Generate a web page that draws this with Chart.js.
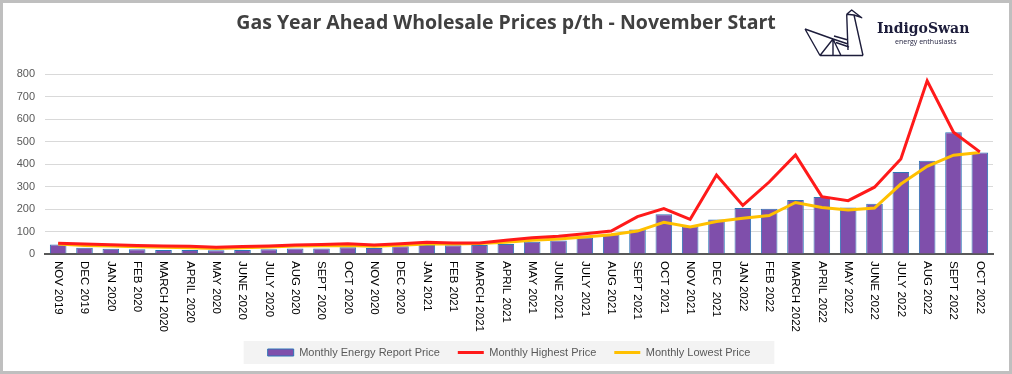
<!DOCTYPE html>
<html>
<head>
<meta charset="utf-8">
<script src="https://cdn.jsdelivr.net/npm/chart.js@4.4.1/dist/chart.umd.min.js"></script>
<style>
html, body { margin: 0; padding: 0; background: #fff; }
</style>
</head>
<body>
<canvas id="grafica" width="1012" height="374"></canvas>
<script>
// months, Nov 2019 -> Oct 2022
const months = ['NOV 2019','DEC 2019','JAN 2020','FEB 2020','MARCH 2020','APRIL 2020','MAY 2020','JUNE 2020','JULY 2020','AUG 2020','SEPT 2020','OCT 2020',
  'NOV 2020','DEC 2020','JAN 2021','FEB 2021','MARCH 2021','APRIL 2021','MAY 2021','JUNE 2021','JULY 2021','AUG 2021','SEPT 2021','OCT 2021',
  'NOV 2021','DEC  2021','JAN 2022','FEB 2022','MARCH 2022','APRIL 2022','MAY 2022','JUNE 2022','JULY 2022','AUG 2022','SEPT 2022','OCT 2022'];

const reportPrice = [42,28,23,21,18,18,17,18,21,24,25,30,
  27,34,40,39,40,45,54,60,72,88,109,177,
  123,153,204,201,240,253,207,223,364,415,541,451];

const highestPrice = [48,44,41,38,36,34,30,33,36,40,42,45,
  40,46,52,49,49,61,72,79,90,102,166,202,
  154,351,216,320,440,255,237,297,422,770,541,454];

const lowestPrice = [44,38,35,32,30,28,25,28,31,35,37,38,
  34,39,44,44,47,52,61,67,76,86,102,141,
  120,144,159,171,229,207,196,204,311,390,439,451];

const yTicks = [0,100,200,300,400,500,600,700,800];

const titleText = 'Gas Year Ahead Wholesale Prices p/th - November Start';

// title, frame, logo, month labels and legend background
const extras = {
  id: 'extras',
  afterLayout(chart) {
    // legend sits a little right of centre in the original
    const lg = chart.legend;
    if (!lg) return;
    lg.left += 10; lg.right += 10;
    (lg.legendHitBoxes || []).forEach(function(b) { b.left += 10; });
  },
  beforeDraw(chart) {
    const ctx = chart.ctx;
    const lg = chart.legend;
    if (lg && lg.legendHitBoxes && lg.legendHitBoxes.length) {
      var x0 = 9999, x1 = 0, y0 = 9999, y1 = 0;
      lg.legendHitBoxes.forEach(function(b) {
        x0 = Math.min(x0, b.left); x1 = Math.max(x1, b.left + b.width);
        y0 = Math.min(y0, b.top); y1 = Math.max(y1, b.top + b.height);
      });
      ctx.save();
      ctx.fillStyle = '#f3f3f3';
      ctx.fillRect(x0 - 24, y0 - 6, x1 - x0 + 48, y1 - y0 + 12);
      ctx.restore();
    }
  },
  afterDraw(chart) {
    const ctx = chart.ctx;
    const xs = chart.scales.x;

    // title
    ctx.save();
    ctx.font = 'bold 19.5px "Open Sans", sans-serif';
    ctx.fillStyle = '#404040';
    ctx.textAlign = 'center';
    ctx.textBaseline = 'middle';
    ctx.fillText(titleText, 506, 23);
    ctx.restore();

    // rotated month labels, reading downwards
    ctx.save();
    ctx.font = '11.5px "Liberation Sans", Arial, sans-serif';
    ctx.fillStyle = '#000';
    ctx.textAlign = 'left';
    ctx.textBaseline = 'middle';
    months.forEach(function(m, i) {
      const x = xs.getPixelForValue(i);
      ctx.save();
      ctx.translate(x, xs.top + 7);
      ctx.rotate(Math.PI / 2);
      ctx.fillText(m, 0, 0);
      ctx.restore();
    });
    ctx.restore();

    // logo
    ctx.save();
    ctx.strokeStyle = '#1d1d3b';
    ctx.lineWidth = 1.4;
    ctx.lineJoin = 'round';
    ctx.beginPath();
    ctx.moveTo(846.7, 14.3); ctx.lineTo(851.7, 10); ctx.lineTo(861.7, 17.7); ctx.lineTo(854, 15); ctx.lineTo(846.7, 14.3);
    ctx.moveTo(846.7, 14.3); ctx.lineTo(848, 50);
    ctx.moveTo(854, 15); ctx.lineTo(863, 55.5);
    ctx.moveTo(820, 55.5); ctx.lineTo(863, 55.5);
    ctx.moveTo(805, 29); ctx.lineTo(820, 55.5);
    ctx.moveTo(805, 29); ctx.lineTo(833, 39); ctx.lineTo(848, 44);
    ctx.moveTo(820, 55.5); ctx.lineTo(833, 39); ctx.lineTo(833, 55.5);
    ctx.moveTo(833, 39); ctx.lineTo(841, 55.5);
    ctx.moveTo(834, 36); ctx.lineTo(848, 40);
    ctx.moveTo(836, 42.5); ctx.lineTo(849, 47);
    ctx.stroke();
    ctx.fillStyle = '#1d1d3b';
    ctx.textAlign = 'left';
    ctx.textBaseline = 'alphabetic';
    ctx.font = 'bold 14px "DejaVu Serif", serif';
    ctx.fillText('IndigoSwan', 877, 33);
    ctx.font = '7px "Open Sans", sans-serif';
    ctx.fillText('energy enthusiasts', 895, 44);
    ctx.restore();

    // outer frame
    ctx.save();
    ctx.strokeStyle = '#bfbfbf';
    ctx.lineWidth = 3;
    ctx.strokeRect(1.5, 1.5, chart.width - 3, chart.height - 3);
    ctx.restore();
  }
};

var ctx = document.getElementById('grafica').getContext('2d');
var chart = new Chart(ctx, {
  type: 'bar',
  data: {
    labels: months,
    datasets: [
      {
        type: 'bar',
        label: 'Monthly Energy Report Price',
        data: reportPrice,
        backgroundColor: '#7f4fab',
        borderColor: '#2e75b6',
        borderWidth: 1,
        barPercentage: 0.63,
        categoryPercentage: 1,
        order: 3
      },
      {
        type: 'line',
        label: 'Monthly Highest Price',
        data: highestPrice,
        borderColor: '#ff1a1a',
        backgroundColor: '#ff1a1a',
        borderWidth: 3,
        pointRadius: 0,
        tension: 0,
        order: 1
      },
      {
        type: 'line',
        label: 'Monthly Lowest Price',
        data: lowestPrice,
        borderColor: '#ffc000',
        backgroundColor: '#ffc000',
        borderWidth: 3,
        pointRadius: 0,
        tension: 0,
        order: 2
      }
    ]
  },
  options: {
    animation: false,
    responsive: false,
    layout: { padding: { left: 5, right: 19, top: 74, bottom: 6 } },
    plugins: {
      title: { display: false },
      legend: {
        position: 'bottom',
        labels: {
          usePointStyle: true,
          pointStyleWidth: 26,
          boxHeight: 7,
          padding: 18,
          color: '#595959',
          font: { family: '"Liberation Sans", Arial, sans-serif', size: 11 },
          generateLabels: function(c) {
            return [
              { text: 'Monthly Energy Report Price', fillStyle: '#7f4fab', strokeStyle: '#2e75b6', lineWidth: 1, pointStyle: 'rect', datasetIndex: 0, fontColor: '#595959' },
              { text: 'Monthly Highest Price', fillStyle: '#ff1a1a', strokeStyle: '#ff1a1a', lineWidth: 3, pointStyle: 'line', datasetIndex: 1, fontColor: '#595959' },
              { text: 'Monthly Lowest Price', fillStyle: '#ffc000', strokeStyle: '#ffc000', lineWidth: 3, pointStyle: 'line', datasetIndex: 2, fontColor: '#595959' }
            ];
          }
        }
      },
      tooltip: { enabled: false }
    },
    scales: {
      x: {
        ticks: { display: false },
        grid: { display: false },
        border: { color: '#595959', width: 2 },
        afterFit: function(scale) { scale.height = 75; }
      },
      y: {
        min: 0,
        max: 800,
        afterBuildTicks: function(scale) { scale.ticks = yTicks.map(function(v) { return { value: v }; }); },
        ticks: {
          color: '#595959',
          padding: 10,
          font: { family: '"Liberation Sans", Arial, sans-serif', size: 11 }
        },
        grid: { color: '#d9d9d9', lineWidth: 1, drawTicks: false },
        border: { display: false },
        afterFit: function(scale) { scale.width = 40; }
      }
    }
  },
  plugins: [extras]
});
</script>
</body>
</html>
